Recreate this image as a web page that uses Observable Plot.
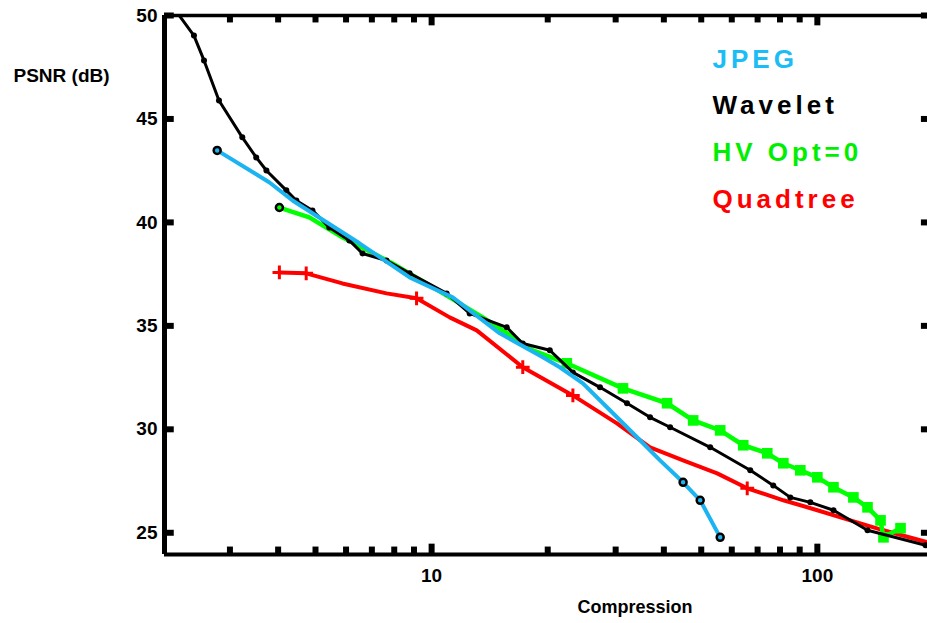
<!DOCTYPE html>
<html><head><meta charset="utf-8">
<script src="https://cdn.jsdelivr.net/npm/d3@7"></script>
<script src="https://cdn.jsdelivr.net/npm/@observablehq/plot@0.6"></script>
<style>
html,body{margin:0;padding:0;background:#fff;}
#chart{width:927px;height:623px;}
</style></head><body><div id="chart"></div>
<script>
// Series values (x = compression ratio, y = PSNR in dB)
const jpegX = [2.78, 3.80, 4.36, 6.50, 8.77, 11.34, 15.02, 19.42, 21.50, 24.67, 29.00, 34.70, 39.10, 44.87, 49.69, 55.99];
const jpegY = [43.48, 41.93, 41.06, 38.99, 37.34, 36.38, 34.64, 33.48, 33.00, 32.22, 30.92, 29.47, 28.50, 27.44, 26.57, 24.78];
const jpegMarked = [2.78, 44.87, 49.69, 55.99];

const waveletX = [2.15, 2.42, 2.57, 2.81, 3.23, 3.51, 3.73, 4.20, 4.46, 4.91, 5.43, 6.12, 6.62, 7.64, 8.77, 10.94, 12.55, 15.66, 17.23, 20.25, 23.24, 27.32, 32.10, 36.84, 41.52, 52.75, 66.99, 76.86, 85.11, 95.9, 110.1, 134.9, 190.8];
const waveletY = [50.34, 49.03, 47.83, 45.89, 44.11, 43.14, 42.51, 41.55, 41.06, 40.58, 39.76, 39.13, 38.50, 38.16, 37.54, 36.57, 35.60, 34.93, 34.15, 33.82, 32.75, 32.03, 31.26, 30.58, 30.10, 29.13, 28.02, 27.29, 26.71, 26.47, 26.09, 25.12, 24.40];

const hvX = [4.03, 4.82, 5.87, 7.92, 11.14, 13.57, 18.30, 22.41, 31.34, 40.78, 47.65, 55.99, 64.25, 74.16, 81.63, 90.32, 100, 110.1, 124.0, 134.9, 145.8, 148.4, 164.3];
const hvY = [40.72, 40.24, 39.28, 38.02, 36.38, 35.41, 33.82, 33.19, 31.98, 31.26, 30.43, 29.95, 29.23, 28.84, 28.36, 28.02, 27.68, 27.20, 26.71, 26.23, 25.60, 24.78, 25.22];

const quadX = [4.03, 4.73, 5.87, 7.64, 9.14, 11.14, 13.09, 17.23, 23.24, 30.23, 36.84, 44.87, 54.99, 65.80, 81.63, 100, 121.8, 148.4, 193.1];
const quadY = [37.58, 37.54, 37.05, 36.57, 36.33, 35.41, 34.78, 33.00, 31.64, 30.29, 29.13, 28.50, 27.87, 27.15, 26.57, 26.09, 25.60, 25.12, 24.54];
const quadMarked = [4.03, 4.73, 9.14, 17.23, 23.24, 65.80];

const yTicks = [25, 30, 35, 40, 45, 50];
const xMajor = [10, 100];
const xMinor = [3, 4, 5, 6, 7, 8, 9, 20, 30, 40, 50, 60, 70, 80, 90];
const xDomain = [2.03, 193];
const yDomain = [23.95, 50];

const legendLabels = ["JPEG", "Wavelet", "HV Opt=0", "Quadtree"];
const legendColors = ["#1cbcf4", "#000000", "#00ee00", "#ff0000"];
const lineColors = {jpeg: "#1cb4f0", wavelet: "#000000", hv: "#00ff00", quad: "#ff0000"};

const toRows = (xs, ys) => xs.map((x, i) => ({x, y: ys[i]}));
const jpeg = toRows(jpegX, jpegY);
const wavelet = toRows(waveletX, waveletY);
const hv = toRows(hvX, hvY);
const quad = toRows(quadX, quadY);
const jpegDots = jpeg.filter(d => jpegMarked.includes(d.x));
const quadDots = quad.filter(d => quadMarked.includes(d.x));
const hvSquares = hv.filter((d, i) => i >= 7);

// inward tick lengths expressed along each scale (log factor for x, dB for y)
const xTickFactor = 1.06, xTickFactorRight = 1.037;
const yTickMajor = 0.5, yTickMinor = 0.36;
const tickW = 6;

const chart = Plot.plot({
  width: 927, height: 623,
  marginLeft: 164, marginRight: 0, marginTop: 15, marginBottom: 69,
  style: {fontFamily: "'Liberation Sans', Arial, sans-serif", fontWeight: "bold", fontSize: "19px", background: "#fff", color: "#000", overflow: "visible"},
  x: {type: "log", domain: xDomain},
  y: {domain: yDomain},
  marks: [
    // axis labels
    Plot.axisY(yTicks, {anchor: "left", tickSize: 0, tickPadding: 7, label: null}),
    Plot.axisX(xMajor, {anchor: "bottom", tickSize: 0, tickPadding: 14, label: null, tickFormat: d => String(d)}),
    // frame lines
    Plot.ruleY([yDomain[1]], {strokeWidth: 3.5}),
    Plot.ruleY([yDomain[0]], {strokeWidth: 4}),
    Plot.ruleX([xDomain[0]], {strokeWidth: 5}),
    // axis titles
    Plot.text(["PSNR (dB)"], {frameAnchor: "top-left", dx: -151, dy: 53, textAnchor: "start", fontSize: 19, fontWeight: "bold"}),
    Plot.text(["Compression"], {frameAnchor: "bottom", dx: 89, dy: 58, fontSize: 18, fontWeight: "bold"}),
    // series
    Plot.line(quad, {x: "x", y: "y", stroke: lineColors.quad, strokeWidth: 4, clip: true}),
    Plot.dot(quadDots, {x: "x", y: "y", symbol: "plus", r: 4.5, stroke: lineColors.quad, strokeWidth: 3, clip: true}),
    Plot.line(hv, {x: "x", y: "y", stroke: lineColors.hv, strokeWidth: 4.5, clip: true}),
    Plot.dot(hvSquares, {x: "x", y: "y", symbol: "square", r: 6, fill: lineColors.hv, clip: true}),
    Plot.line(wavelet, {x: "x", y: "y", stroke: lineColors.wavelet, strokeWidth: 3, clip: true}),
    Plot.dot(wavelet, {x: "x", y: "y", r: 3, fill: lineColors.wavelet, clip: true}),
    Plot.line(jpeg, {x: "x", y: "y", stroke: lineColors.jpeg, strokeWidth: 4, clip: true}),
    Plot.dot(jpegDots, {x: "x", y: "y", r: 3.5, stroke: "#000", strokeWidth: 2.5, fill: lineColors.jpeg, clip: true}),
    Plot.dot(hv.slice(0, 1), {x: "x", y: "y", r: 3.5, stroke: "#000", strokeWidth: 2.5, fill: lineColors.hv}),
    // inward ticks (on top of everything)
    Plot.ruleY(yTicks, {y: d => d, x1: xDomain[0], x2: xDomain[0] * xTickFactor, strokeWidth: tickW}),
    Plot.ruleY(yTicks, {y: d => d, x1: xDomain[1] / xTickFactorRight, x2: xDomain[1], strokeWidth: tickW}),
    Plot.ruleX(xMajor, {x: d => d, y1: yDomain[0], y2: yDomain[0] + yTickMajor, strokeWidth: tickW}),
    Plot.ruleX(xMinor, {x: d => d, y1: yDomain[0], y2: yDomain[0] + yTickMinor, strokeWidth: tickW}),
    Plot.ruleX(xMajor, {x: d => d, y1: yDomain[1], y2: yDomain[1] - yTickMajor, strokeWidth: tickW}),
    Plot.ruleX(xMinor, {x: d => d, y1: yDomain[1], y2: yDomain[1] - yTickMinor, strokeWidth: tickW}),
    // legend
    ...legendLabels.map((t, i) => Plot.text([t], {
      frameAnchor: "top-left", dx: 548, dy: 33.7 + i * 46.7, textAnchor: "start",
      fill: legendColors[i], fontSize: 26, fontWeight: "bold"
    }))
  ]
});
d3.select(chart).selectAll("text")
  .filter(function () { return legendLabels.includes(this.textContent); })
  .style("letter-spacing", "4px");
document.getElementById("chart").appendChild(chart);
</script></body></html>
